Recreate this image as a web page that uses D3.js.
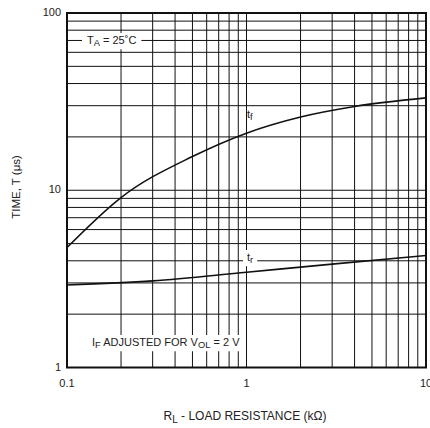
<!DOCTYPE html>
<html>
<head>
<meta charset="utf-8">
<script src="https://cdn.jsdelivr.net/npm/d3@7"></script>
<style>
body { margin: 0; background: #fff; }
text { font-family: "Liberation Sans", Arial, sans-serif; fill: #222; }
</style>
</head>
<body>
<div id="chart"></div>
<script>
// fall time t_f vs load resistance (kOhm, µs)
const tfR = [0.1, 0.2, 0.5, 1, 2, 4, 10];
const tfT = [4.75, 9.1, 15.5, 21.0, 25.9, 29.7, 33.2];
// rise time t_r
const trR = [0.1, 0.3, 1, 3, 10];
const trT = [2.92, 3.08, 3.45, 3.83, 4.28];

const xTicks = [0.1, 1, 10];
const yTicks = [1, 10, 100];

const W = 430, H = 428;
const margin = { top: 13, right: 4, bottom: 60.5, left: 67 };

const svg = d3.select("#chart").append("svg")
    .attr("width", W)
    .attr("height", H);

const x = d3.scaleLog().domain([0.1, 10]).range([margin.left, W - margin.right]);
const y = d3.scaleLog().domain([1, 100]).range([H - margin.bottom, margin.top]);

// minor grid values for each decade
const xGrid = [], yGrid = [];
[0.1, 1].forEach(d => { for (let k = 2; k <= 9; k++) xGrid.push(d * k); });
xGrid.push(1);
[1, 10].forEach(d => { for (let k = 2; k <= 9; k++) yGrid.push(d * k); });
yGrid.push(10);

const g = svg.append("g");

g.selectAll(".vgrid")
    .data(xGrid)
    .enter().append("line")
    .attr("x1", d => x(d)).attr("x2", d => x(d))
    .attr("y1", y(1)).attr("y2", y(100))
    .style("stroke", "#111").style("stroke-width", 1);

g.selectAll(".hgrid")
    .data(yGrid)
    .enter().append("line")
    .attr("x1", x(0.1)).attr("x2", x(10))
    .attr("y1", d => y(d)).attr("y2", d => y(d))
    .style("stroke", "#111").style("stroke-width", 1);

// curves
const line = d3.line()
    .x(d => x(d[0]))
    .y(d => y(d[1]))
    .curve(d3.curveMonotoneX);

g.append("path")
    .datum(d3.zip(tfR, tfT))
    .attr("d", line)
    .style("fill", "none").style("stroke", "#111").style("stroke-width", 1.6);

g.append("path")
    .datum(d3.zip(trR, trT))
    .attr("d", line)
    .style("fill", "none").style("stroke", "#111").style("stroke-width", 1.6);

// labels with white boxes
function label(px, py, parts, size, pad) {
    const t = g.append("text")
        .attr("x", px).attr("y", py)
        .style("font-size", size + "px");
    parts.forEach(p => {
        const s = t.append("tspan").text(p.t);
        if (p.sub) s.attr("baseline-shift", "-25%").style("font-size", (size * 0.85) + "px");
    });
    const bb = t.node().getBBox();
    g.insert("rect", function () { return t.node(); })
        .attr("x", bb.x - pad).attr("y", bb.y - 1)
        .attr("width", bb.width + 2 * pad).attr("height", bb.height + 2)
        .style("fill", "#fff");
}

label(87, 44, [{ t: "T" }, { t: "A", sub: true }, { t: " = 25˚C" }], 11, 5);
label(247, 118, [{ t: "t" }, { t: "f", sub: true }], 11, 0);
label(247, 261, [{ t: "t" }, { t: "r", sub: true }], 11, 4);
label(92, 346, [{ t: "I" }, { t: "F", sub: true }, { t: " ADJUSTED FOR V" }, { t: "OL", sub: true }, { t: " = 2 V" }], 11, 1);

// frame
g.append("rect")
    .attr("x", x(0.1)).attr("y", y(100))
    .attr("width", x(10) - x(0.1)).attr("height", y(1) - y(100))
    .style("fill", "none").style("stroke", "#111").style("stroke-width", 2);

// tick labels
g.selectAll(".xt")
    .data(xTicks)
    .enter().append("text")
    .attr("x", d => x(d)).attr("y", y(1) + 19)
    .attr("text-anchor", "middle")
    .style("font-size", "11px")
    .text(d => d3.format("~g")(d));

g.selectAll(".yt")
    .data(yTicks)
    .enter().append("text")
    .attr("x", x(0.1) - 6).attr("y", d => y(d) + 3)
    .attr("text-anchor", "end")
    .style("font-size", "11px")
    .text(d => d);

// axis titles
const xt = svg.append("text")
    .attr("x", 245).attr("y", 420)
    .attr("text-anchor", "middle")
    .style("font-size", "12px");
xt.append("tspan").text("R");
xt.append("tspan").text("L").attr("baseline-shift", "-25%").style("font-size", "10px");
xt.append("tspan").text(" - LOAD RESISTANCE (kΩ)");

svg.append("text")
    .attr("transform", "translate(20,187) rotate(-90)")
    .attr("text-anchor", "middle")
    .style("font-size", "11.5px")
    .text("TIME, T (μs)");
</script>
</body>
</html>
